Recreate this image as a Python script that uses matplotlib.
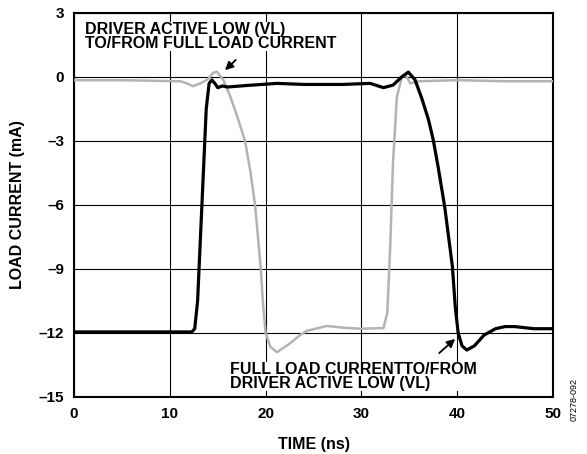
import matplotlib.pyplot as plt

plt.rcParams['font.family'] = ['Liberation Sans', 'DejaVu Sans']
plt.rcParams['font.weight'] = 'bold'

# black trace: driver active low to/from full load
t_black = [0, 5, 10, 12.3, 12.6, 12.9, 13.2, 13.5, 13.8, 14.1, 14.4, 14.7, 15.0, 15.5, 16, 18,
           21.2, 24, 28, 30.9, 32.3, 33.3, 34.2, 34.9, 35.6, 36.3, 37.0, 37.5, 38.0, 38.7, 39.5,
           39.8, 40.1, 40.5, 41.0, 41.8, 42.8, 44, 45, 46, 48, 50]
i_black = [-11.95, -11.95, -11.95, -11.95, -11.8, -10.5, -7.5, -4.5, -1.5, -0.3, -0.14, -0.3,
           -0.5, -0.42, -0.47, -0.4, -0.3, -0.35, -0.35, -0.3, -0.5, -0.38, 0.0, 0.23, -0.14,
           -1.0, -2.0, -2.95, -4.2, -6.1, -8.9, -10.8, -12.0, -12.6, -12.8, -12.6, -12.1,
           -11.8, -11.7, -11.7, -11.8, -11.8]

# gray trace: full load current to/from driver active low
t_gray = [0, 5, 11.1, 11.8, 12.4, 13.2, 14.0, 14.5, 14.9, 15.6, 16.3, 17.0, 17.85, 18.4, 18.9,
          19.5, 19.7, 20.0, 20.5, 21.2, 22.5, 23.6, 24.3, 26.4, 28, 29.9, 32.3, 32.7, 33.0,
          33.3, 33.7, 34.2, 34.6, 35.1, 36, 40, 45, 50]
i_gray = [-0.15, -0.15, -0.2, -0.3, -0.43, -0.3, -0.1, 0.19, 0.25, -0.14, -0.9, -1.8, -3.0,
          -4.4, -6.0, -9.0, -10.45, -12.0, -12.65, -12.9, -12.5, -12.1, -11.9, -11.67, -11.75,
          -11.8, -11.77, -11.05, -8.0, -4.0, -0.94, -0.05, 0.1, -0.3, -0.2, -0.15, -0.2, -0.2]

x_ticks = [0, 10, 20, 30, 40, 50]
y_ticks = [3, 0, -3, -6, -9, -12, -15]

fig = plt.figure(figsize=(5.87, 4.54), dpi=100)
ax = fig.add_axes([0.1261, 0.1256, 0.816, 0.8458])

ax.plot(t_gray, i_gray, color='#b3b3b3', lw=1.8, zorder=3)
ax.plot(t_black, i_black, color='black', lw=2.3, zorder=4)

ax.set_xlim(0, 50)
ax.set_ylim(-15, 3)
ax.set_xticks(x_ticks)
ax.set_yticks(y_ticks)
ax.set_yticklabels([str(v).replace('-', '\u2013') for v in y_ticks])
ax.grid(True, color='black', lw=0.8)
ax.tick_params(length=0, labelsize=11, pad=7)
for s in ax.spines.values():
    s.set_linewidth(1.5)

ax.set_xlabel('TIME (ns)', fontsize=11.5, fontweight='bold', labelpad=12)
ax.set_ylabel('LOAD CURRENT (mA)', fontsize=11.5, fontweight='bold', labelpad=10)

ax.text(1.15, 2.6, 'DRIVER ACTIVE LOW (VL)\nTO/FROM FULL LOAD CURRENT', fontsize=11.5,
        fontweight='bold', va='top', ha='left', linespacing=0.97, zorder=5,
        bbox=dict(facecolor='white', edgecolor='none', pad=0))
ax.annotate('', xy=(15.55, 0.23), xytext=(17.1, 0.89),
            arrowprops=dict(arrowstyle='-|>', color='black', lw=1.3, mutation_scale=12), zorder=6)

ax.text(16.3, -13.35, 'FULL LOAD CURRENTTO/FROM\nDRIVER ACTIVE LOW (VL)', fontsize=11.5,
        fontweight='bold', va='top', ha='left', linespacing=0.97, zorder=5,
        bbox=dict(facecolor='white', edgecolor='none', pad=0))
ax.annotate('', xy=(40.0, -12.19), xytext=(37.9, -13.03),
            arrowprops=dict(arrowstyle='-|>', color='black', lw=1.3, mutation_scale=12), zorder=6)

fig.text(0.978, 0.12, '07278-092', rotation=90, fontsize=6.5, fontweight='normal',
         ha='center', va='center')

fig.savefig('out.png', dpi=100)
